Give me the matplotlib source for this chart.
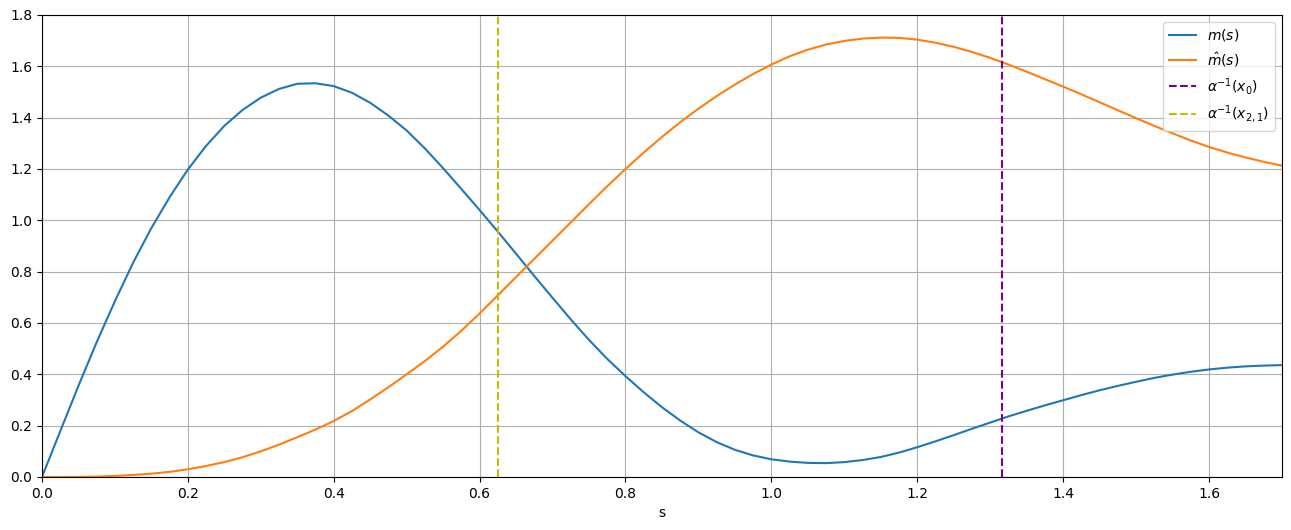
import matplotlib
matplotlib.use("Agg")
import matplotlib.pyplot as plt

# sample points along s (at 0.025 steps)
s = [0.0, 0.025, 0.05, 0.075, 0.1, 0.125, 0.15, 0.175, 0.2, 0.225, 0.25, 0.275,
     0.3, 0.325, 0.35, 0.375, 0.4, 0.425, 0.45, 0.475, 0.5, 0.525, 0.55, 0.575,
     0.6, 0.625, 0.65, 0.675, 0.7, 0.725, 0.75, 0.775, 0.8, 0.825, 0.85, 0.875,
     0.9, 0.925, 0.95, 0.975, 1.0, 1.025, 1.05, 1.075, 1.1, 1.125, 1.15, 1.175,
     1.2, 1.225, 1.25, 1.275, 1.3, 1.325, 1.35, 1.375, 1.4, 1.425, 1.45, 1.475,
     1.5, 1.525, 1.55, 1.575, 1.6, 1.625, 1.65, 1.675, 1.7]

m = [0.0, 0.178, 0.355, 0.525, 0.685, 0.835, 0.97, 1.09, 1.198, 1.29, 1.368, 1.43,
     1.478, 1.512, 1.532, 1.534, 1.523, 1.497, 1.458, 1.408, 1.35, 1.28, 1.203, 1.122,
     1.04, 0.956, 0.87, 0.783, 0.698, 0.614, 0.534, 0.46, 0.393, 0.33, 0.272, 0.22,
     0.174, 0.136, 0.106, 0.084, 0.069, 0.06, 0.055, 0.054, 0.058, 0.066, 0.078, 0.095,
     0.116, 0.139, 0.163, 0.188, 0.212, 0.236, 0.258, 0.279, 0.299, 0.319, 0.338, 0.355,
     0.371, 0.386, 0.399, 0.41, 0.419, 0.426, 0.431, 0.434, 0.436]

m_hat = [0.0, 0.0001, 0.0005, 0.0015, 0.004, 0.008, 0.013, 0.02, 0.03, 0.043, 0.058, 0.077,
         0.1, 0.126, 0.155, 0.185, 0.218, 0.257, 0.302, 0.35, 0.4, 0.452, 0.508, 0.57,
         0.637, 0.708, 0.779, 0.85, 0.921, 0.992, 1.063, 1.133, 1.2, 1.264, 1.325, 1.382,
         1.435, 1.484, 1.529, 1.57, 1.607, 1.639, 1.665, 1.685, 1.699, 1.708, 1.712, 1.711,
         1.704, 1.692, 1.676, 1.656, 1.633, 1.607, 1.579, 1.55, 1.521, 1.491, 1.46, 1.429,
         1.398, 1.368, 1.339, 1.311, 1.286, 1.264, 1.245, 1.228, 1.213]

x0_inv = 1.316
x21_inv = 0.6255

fig, ax = plt.subplots(figsize=(12.91, 5.30), dpi=100)
fig.subplots_adjust(left=0.0325, right=0.993, bottom=0.1, top=0.9717)

ax.plot(s, m, label=r"$m(s)$")
ax.plot(s, m_hat, label=r"$\hat{m}(s)$")
ax.axvline(x0_inv, color="purple", linestyle="--", label=r"$\alpha^{-1}(x_0)$")
ax.axvline(x21_inv, color="y", linestyle="--", label=r"$\alpha^{-1}(x_{2,1})$")

ax.set_xlim(0, 1.7)
ax.set_ylim(0, 1.8)
ax.set_xlabel("s")
ax.grid(True)
ax.legend(loc="upper right")

fig.savefig("out.png")
